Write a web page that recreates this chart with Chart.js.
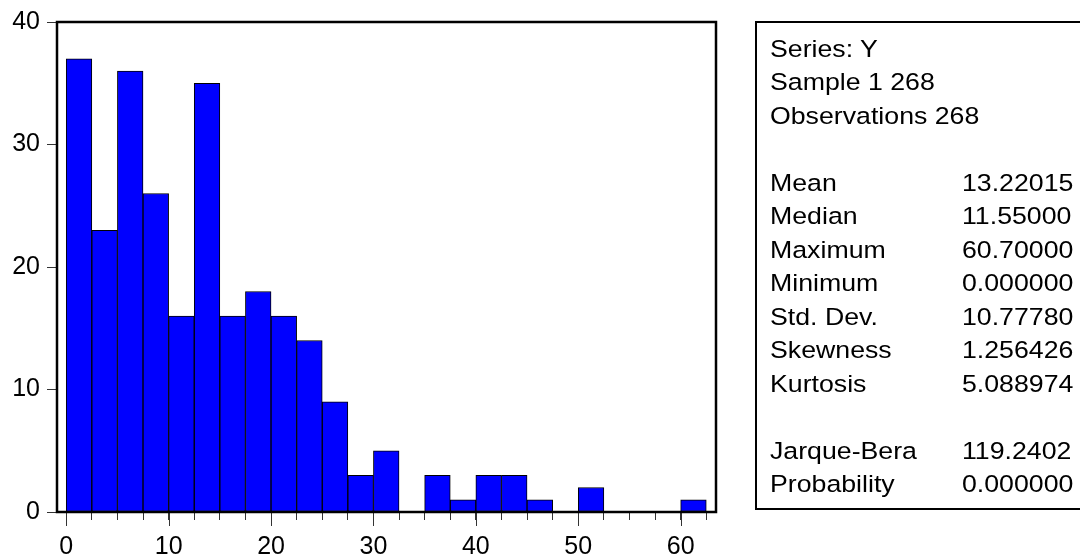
<!DOCTYPE html>
<html>
<head>
<meta charset="utf-8">
<script src="https://cdn.jsdelivr.net/npm/chart.js@4/dist/chart.umd.min.js"></script>
<style>
  html, body { margin: 0; padding: 0; background: #fff; }
  #wrap { position: relative; width: 1080px; height: 560px; overflow: hidden; font-family: 'Liberation Sans', Arial, sans-serif; }
  #c { position: absolute; left: 0; top: 0; }
  #stats { position: absolute; left: 755px; top: 21px; width: 400px; height: 489px; box-sizing: border-box; border: 2px solid #000; }
  .st { position: absolute; font-size: 24.5px; line-height: 28px; color: #000; white-space: nowrap; transform: scaleX(1.09); transform-origin: 0 0; }
</style>
</head>
<body>
<div id="wrap">
  <canvas id="c" width="1080" height="560"></canvas>
  <div id="stats"></div>
</div>
<script>
// ---- data ----
const binLower = [0, 2.5, 5, 7.5, 10, 12.5, 15, 17.5, 20, 22.5, 25, 27.5, 30, 32.5, 35, 37.5, 40, 42.5, 45, 47.5, 50, 52.5, 55, 57.5, 60];
const counts   = [37, 23, 36, 26, 16, 35, 16, 18, 16, 14, 9, 3, 5, 0, 3, 1, 3, 3, 1, 0, 2, 0, 0, 0, 1];
const binWidth = 2.5;
const xMajorTicks = [0, 10, 20, 30, 40, 50, 60];
const yTicks = [0, 10, 20, 30, 40];
const headerLines = ['Series: Y', 'Sample 1 268', 'Observations 268'];
const statNames  = ['Mean', 'Median', 'Maximum', 'Minimum', 'Std. Dev.', 'Skewness', 'Kurtosis'];
const statValues = ['13.22015', '11.55000', '60.70000', '0.000000', '10.77780', '1.256426', '5.088974'];
const testNames  = ['Jarque-Bera', 'Probability'];
const testValues = ['119.2402', '0.000000'];

// ---- chart ----
const FONT = "'Liberation Sans', Arial, sans-serif";
const points = binLower.map((lo, i) => ({ x: lo + binWidth / 2, y: counts[i] })).filter(p => p.y > 0);
const allXTicks = binLower.concat([binLower[binLower.length - 1] + binWidth]);

const frame = {
  id: 'frame',
  afterDraw(chart) {
    const { ctx, chartArea: a, scales } = chart;
    ctx.save();
    ctx.strokeStyle = '#333';
    ctx.lineWidth = 1;
    xMajorTicks.forEach(v => {
      const px = Math.round(scales.x.getPixelForValue(v)) + 0.5;
      ctx.beginPath();
      ctx.moveTo(px, a.bottom);
      ctx.lineTo(px, a.bottom + 14);
      ctx.stroke();
    });
    ctx.strokeStyle = '#000';
    ctx.lineWidth = 2.5;
    ctx.strokeRect(a.left, a.top, a.right - a.left, a.bottom - a.top);
    ctx.restore();
  }
};

new Chart(document.getElementById('c'), {
  type: 'bar',
  data: {
    datasets: [{
      data: points,
      backgroundColor: '#0000FF',
      borderColor: '#000000',
      borderWidth: 1,
      borderSkipped: false,
      barPercentage: 1,
      categoryPercentage: 1
    }]
  },
  options: {
    responsive: false,
    animation: false,
    devicePixelRatio: 1,
    layout: { padding: { left: 0, top: 21, right: 364, bottom: 0 } },
    plugins: { legend: { display: false }, tooltip: { enabled: false } },
    scales: {
      x: {
        type: 'linear',
        offset: false,
        min: -0.9,
        max: 63.45,
        afterBuildTicks: s => { s.ticks = allXTicks.map(v => ({ value: v })); },
        afterFit: s => { s.height = 48; },
        grid: { drawOnChartArea: false, offset: false, tickLength: 8, tickColor: '#333', lineWidth: 1 },
        border: { display: false },
        ticks: {
          autoSkip: false, maxRotation: 0, color: '#000', padding: 12,
          font: { family: FONT, size: 25 },
          callback: v => (xMajorTicks.includes(v) ? String(v) : '')
        }
      },
      y: {
        min: 0,
        max: 40,
        afterBuildTicks: s => { s.ticks = yTicks.map(v => ({ value: v })); },
        afterFit: s => { s.width = 57; },
        grid: { drawOnChartArea: false, tickLength: 10, tickColor: '#333', lineWidth: 1 },
        border: { display: false },
        ticks: { color: '#000', padding: 7, font: { family: FONT, size: 25 } }
      }
    }
  },
  plugins: [frame]
});

// ---- stats box ----
const rows = [];
headerLines.forEach(t => rows.push([t, '']));
rows.push(['', '']);
statNames.forEach((n, i) => rows.push([n, statValues[i]]));
rows.push(['', '']);
testNames.forEach((n, i) => rows.push([n, testValues[i]]));
const wrap = document.getElementById('wrap');
const firstBaseline = 57.5, lineStep = 33.46, baseOff = 22.5;
rows.forEach((r, i) => {
  const top = firstBaseline + i * lineStep - baseOff;
  [[r[0], 770], [r[1], 962]].forEach(([txt, left]) => {
    if (!txt) return;
    const s = document.createElement('div');
    s.className = 'st';
    s.textContent = txt;
    s.style.left = left + 'px';
    s.style.top = top + 'px';
    wrap.appendChild(s);
  });
});
</script>
</body>
</html>
